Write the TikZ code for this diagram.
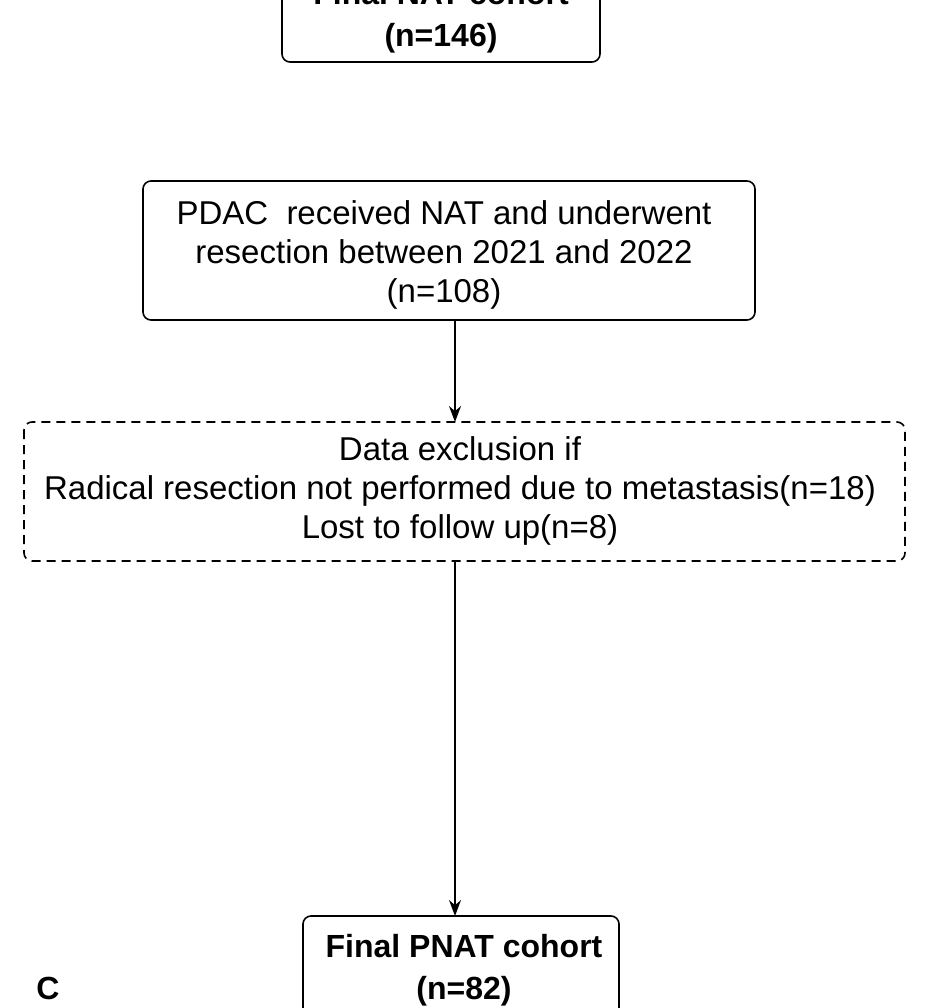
\documentclass[tikz,border=0pt]{standalone}
\usepackage{fontspec}
\setmainfont{Liberation Sans}
\usetikzlibrary{arrows.meta}
\begin{document}
\begin{tikzpicture}[x=1pt,y=-1pt,
  box/.style={draw,line width=1.6pt,rounded corners=8pt},
  txt/.style={font=\fontsize{33}{39}\selectfont,align=center},
  btxt/.style={font=\bfseries\fontsize{32}{42}\selectfont,align=center},
  arr/.style={line width=1.4pt,-{Stealth[length=16pt,width=12pt]}}]
\useasboundingbox (0,0) rectangle (939,1008);
\draw[box] (282,-30) rectangle (600,62);
\node[btxt] (t1) at (441,17) {Final NAT cohort\\(n=146)};
\draw[box] (143,181) rectangle (755,320);
\coordinate (mtop) at (455,320);
\node[txt] (m) at (444,255) {PDAC\ \ received NAT and underwent\\resection between 2021 and 2022\\(n=108)};
\draw[line width=1.6pt,dash pattern=on 9pt off 6pt,rounded corners=8pt] (24,422) rectangle (905,561);
\coordinate (dtop) at (455,422);
\coordinate (dbot) at (455,561);
\node[txt] (d) at (460,491) {Data exclusion if\\Radical resection not performed due to metastasis(n=18)\\Lost to follow up(n=8)};
\draw[box] (303,916) rectangle (619,1040);
\coordinate (btop) at (455,916);
\node[btxt] (b) at (464,970) {Final PNAT cohort\\(n=82)};
\node[font=\bfseries\fontsize{32}{30}\selectfont] (c) at (48,988) {C};
\draw[arr] (mtop) -- (dtop);
\draw[arr] (dbot) -- (btop);
\end{tikzpicture}
\end{document}
